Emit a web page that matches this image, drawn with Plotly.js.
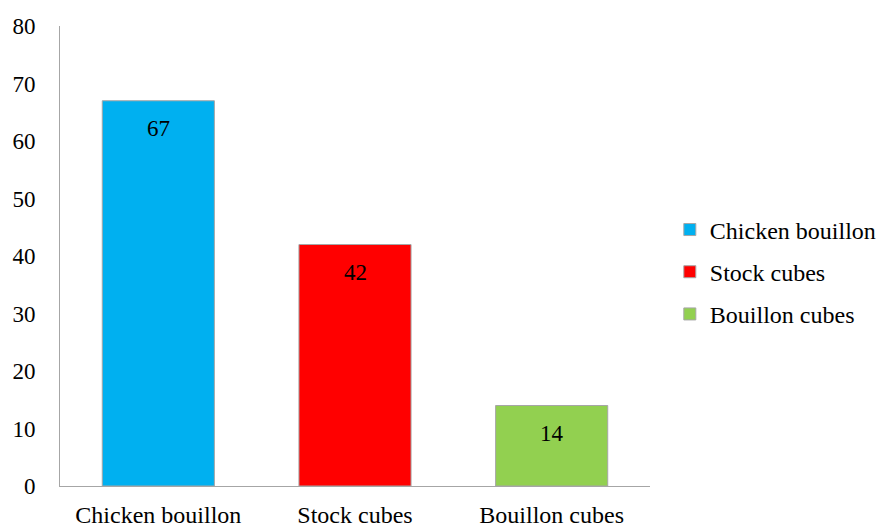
<!DOCTYPE html>
<html>
<head>
<meta charset="utf-8">
<script src="https://cdn.plot.ly/plotly-3.0.1.min.js"></script>
<style>html,body{margin:0;padding:0;background:#fff;}#chart{width:886px;height:527px;}</style>
</head>
<body>
<div id="chart"></div>
<script>
const categories = ["Chicken bouillon", "Stock cubes", "Bouillon cubes"];
const values = [67, 42, 14];
const colors = ["#00b0f0", "#ff0000", "#92d050"];
const yTicks = [0, 10, 20, 30, 40, 50, 60, 70, 80];

const font = "Liberation Serif";

const traces = categories.map((c, i) => ({
  type: "bar",
  x: [c],
  y: [values[i]],
  name: c,
  legendgroup: "g" + i,
  marker: { color: colors[i], line: { color: "#a6a6a6", width: 1 } },
  hoverinfo: "none"
}));

const annotations = categories.map((c, i) => ({
  x: c, y: values[i], xref: "x", yref: "y",
  text: String(values[i]), showarrow: false,
  yshift: -28, font: { family: font, size: 23, color: "#000" }
}));

const layout = {
  width: 886, height: 527,
  margin: { l: 60, r: 236, t: 26, b: 41, autoexpand: false },
  paper_bgcolor: "#fff", plot_bgcolor: "#fff",
  barmode: "overlay",
  bargap: 0.43,
  showlegend: true,
  legend: {
    xref: "container", yref: "container",
    x: 0.756, y: 0.484, xanchor: "left", yanchor: "middle",
    font: { family: font, size: 24, color: "#000" },
    tracegroupgap: 8, itemwidth: 30, bgcolor: "rgba(0,0,0,0)"
  },
  xaxis: {
    categoryorder: "array", categoryarray: categories,
    showline: true, linecolor: "#a6a6a6", linewidth: 1,
    showgrid: false, ticks: "", zeroline: false, automargin: false,
    ticklabelstandoff: 7,
    tickfont: { family: font, size: 24, color: "#000" }
  },
  yaxis: {
    range: [0, 80], tickvals: yTicks,
    showline: true, linecolor: "#a6a6a6", linewidth: 1,
    showgrid: false, zeroline: false, ticks: "", automargin: false,
    ticklabelstandoff: 19,
    tickfont: { family: font, size: 23, color: "#000" }
  },
  annotations: annotations
};

Plotly.newPlot("chart", traces, layout, { displayModeBar: false, staticPlot: true });
</script>
</body>
</html>
